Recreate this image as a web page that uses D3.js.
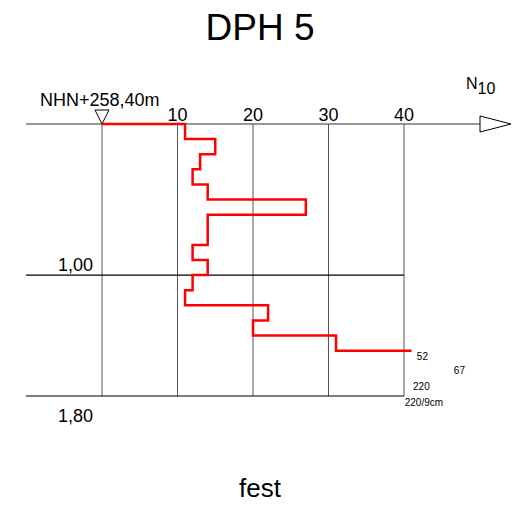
<!DOCTYPE html>
<html><head><meta charset="utf-8">
<script src="https://cdn.jsdelivr.net/npm/d3@7"></script>
<style>body{margin:0;background:#fff}text{font-family:"Liberation Sans",Arial,sans-serif}</style>
</head><body><svg id="c" width="522" height="506"></svg>
<script>
const title = "DPH 5";
const footer = "fest";
const elevation = "NHN+258,40m";
const xTicks = [10, 20, 30, 40];
const depthTicks = [1.0, 1.8];
const depthLabels = ["1,00", "1,80"];
// blow counts N10 per 10 cm interval
const depthTop = [0.0,0.1,0.2,0.3,0.4,0.5,0.6,0.7,0.8,0.9,1.0,1.1,1.2,1.3,1.4];
const blows    = [11, 15, 13, 12, 14, 27, 14, 14, 12, 14, 12, 11, 22, 20, 31];
const overflowValues = ["52", "67", "220", "220/9cm"];
const overflowDepth = [1.565, 1.655, 1.76, 1.865];
const overflowX = [41.7, 46.6, 41.2, 40.1];

const svg = d3.select("#c");
const x = d3.scaleLinear().domain([0, 40]).range([102, 404]);
const y = d3.scaleLinear().domain([0, 1.8]).range([124, 396]);

svg.append("text").attr("x", 260).attr("y", 39.5).attr("text-anchor", "middle")
  .attr("font-size", 37).text(title);
svg.append("text").attr("x", 260).attr("y", 497).attr("text-anchor", "middle")
  .attr("font-size", 26).text(footer);

// vertical grid
svg.selectAll(".vg").data([0, ...xTicks]).enter().append("line")
  .attr("x1", d => x(d)).attr("x2", d => x(d)).attr("y1", y(0)).attr("y2", y(1.8))
  .attr("stroke", "#555").attr("stroke-width", 1);
// horizontal grid
svg.selectAll(".hg").data(depthTicks).enter().append("line")
  .attr("x1", 26).attr("x2", x(40)).attr("y1", d => y(d)).attr("y2", d => y(d))
  .attr("stroke", "#000").attr("stroke-width", 1.2);
svg.selectAll(".dl").data(depthTicks).enter().append("text")
  .attr("x", 93).attr("y", (d, i) => i === 0 ? 270.5 : 421.5)
  .attr("text-anchor", "end").attr("font-size", 18).text((d, i) => depthLabels[i]);

// top axis
svg.append("line").attr("x1", 26).attr("x2", 480).attr("y1", y(0)).attr("y2", y(0))
  .attr("stroke", "#333").attr("stroke-width", 1.2);
svg.append("path").attr("d", `M480,${y(0)-8}L511,${y(0)}L480,${y(0)+8}Z`)
  .attr("fill", "#fff").attr("stroke", "#000").attr("stroke-width", 1);
svg.selectAll(".xt").data(xTicks).enter().append("text")
  .attr("x", d => x(d)).attr("y", 121).attr("text-anchor", "middle")
  .attr("font-size", 18).text(d => d);
const nt = svg.append("text").attr("x", 466).attr("y", 89).attr("font-size", 16);
nt.append("tspan").text("N");
nt.append("tspan").attr("dy", 5).attr("font-size", 16).text("10");

// elevation marker
svg.append("path").attr("d", `M${x(0)-7},${y(0)-14}L${x(0)+7},${y(0)-14}L${x(0)},${y(0)}Z`)
  .attr("fill", "#fff").attr("stroke", "#000").attr("stroke-width", 1);
svg.append("text").attr("x", 40).attr("y", 106).attr("font-size", 18).text(elevation);

// step line
const pts = [[0, 0]];
blows.forEach((b, i) => {
  pts.push([b, depthTop[i]]);
  pts.push([b, depthTop[i] + 0.1]);
});
pts.push([41, 1.5]);
svg.append("path")
  .attr("d", d3.line().x(d => x(d[0])).y(d => y(d[1]))(pts))
  .attr("fill", "none").attr("stroke", "#f00").attr("stroke-width", 2.5);

svg.selectAll(".ov").data(overflowValues).enter().append("text")
  .attr("x", (d, i) => x(overflowX[i])).attr("y", (d, i) => y(overflowDepth[i]))
  .attr("font-size", 10).text(d => d);
</script></body></html>
